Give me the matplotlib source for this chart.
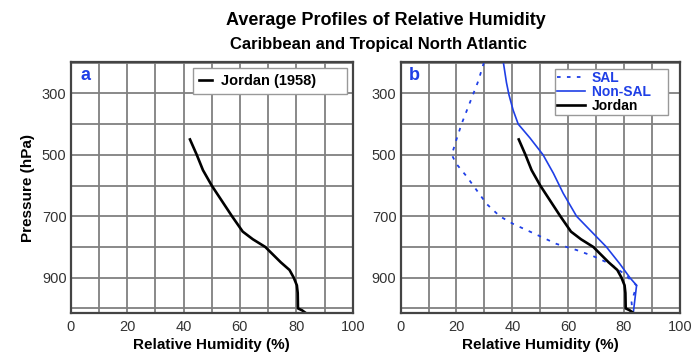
# Average RH profiles: Jordan (1958) vs SAL / Non-SAL soundings
import numpy as np
import matplotlib.pyplot as plt

plt.rcParams["font.family"] = ["Liberation Sans", "DejaVu Sans"]

# Jordan (1958) mean tropical sounding
jordan_p = [450, 500, 550, 600, 650, 700, 750, 775, 800, 850, 875, 900, 925, 950, 1000, 1006, 1016]
jordan_rh = [42.3, 44.7, 46.9, 50.0, 53.6, 57.2, 61.0, 64.6, 69.0, 74.5, 77.6, 79.1, 80.2, 80.5, 80.6, 82.0, 83.5]

# SAL composite
sal_p = [200, 260, 330, 400, 450, 500, 530, 570, 615, 660, 700, 725, 755, 790, 810, 830, 855, 885, 925, 980, 1016]
sal_rh = [29.8, 27.8, 24.8, 21.8, 20.0, 18.3, 20.0, 23.6, 27.2, 30.8, 35.5, 40.3, 47.5, 55.8, 63.0, 69.0, 75.0, 79.7, 84.5, 82.7, 83.1]

# Non-SAL composite
nonsal_p = [200, 265, 305, 355, 400, 445, 500, 560, 625, 700, 745, 800, 855, 900, 925, 1016]
nonsal_rh = [36.8, 37.9, 38.8, 40.3, 42.1, 46.3, 51.0, 54.7, 58.2, 63.0, 67.8, 73.7, 78.5, 82.1, 84.5, 83.3]

blue = "#1f3fe6"
grid_col = "#808080"

fig = plt.figure(figsize=(6.98, 3.56), dpi=100)
ax_a = fig.add_axes([0.1013, 0.1199, 0.404, 0.705])
ax_b = fig.add_axes([0.574, 0.1199, 0.400, 0.705])

for ax in (ax_a, ax_b):
    ax.set_xlim(0, 100)
    ax.set_ylim(1016, 199)
    ax.set_xticks(np.arange(0, 101, 20))
    ax.set_xticks(np.arange(0, 101, 10), minor=True)
    ax.set_yticks([300, 500, 700, 900])
    ax.set_yticks(np.arange(200, 1001, 100), minor=True)
    ax.grid(True, which="both", color=grid_col, lw=1.3)
    ax.set_axisbelow(True)
    ax.tick_params(which="both", length=0, labelsize=10.5, labelcolor="#333333")
    ax.tick_params(axis="y", pad=3)
    ax.tick_params(axis="x", pad=5)
    for s in ax.spines.values():
        s.set_color("#444444")
        s.set_linewidth(1.6)
    ax.set_xlabel("Relative Humidity (%)", fontsize=11, fontweight="bold", labelpad=3)

ax_a.set_ylabel("Pressure (hPa)", fontsize=11, fontweight="bold", labelpad=5)

# panel a
ax_a.plot(jordan_rh, jordan_p, color="black", lw=1.9, label="Jordan (1958)      ")
leg_a = ax_a.legend(loc="upper right", handlelength=0.9, handletextpad=0.6,
                    fancybox=False, framealpha=1, borderaxespad=0.4, borderpad=0.4,
                    prop={"weight": "bold", "size": 10.5})
leg_a.get_frame().set_edgecolor("#999999")
ax_a.text(0.054, 0.947, "a", transform=ax_a.transAxes, color=blue, fontsize=13,
          fontweight="bold", ha="center", va="center")

# panel b
ax_b.plot(sal_rh, sal_p, color=blue, lw=1.3, ls=(0, (2, 3.5)), label="SAL")
ax_b.plot(nonsal_rh, nonsal_p, color=blue, lw=1.2, label="Non-SAL    ")
ax_b.plot(jordan_rh, jordan_p, color="black", lw=1.9, label="Jordan")
leg_b = ax_b.legend(loc="upper right", bbox_to_anchor=(0.957, 0.975),
                    handlelength=2.0, handletextpad=0.5,
                    fancybox=False, framealpha=1, borderaxespad=0, borderpad=0.15,
                    labelspacing=0.0, prop={"weight": "bold", "size": 10})
leg_b.get_frame().set_edgecolor("#999999")
for t, c in zip(leg_b.get_texts(), [blue, blue, "black"]):
    t.set_color(c)
ax_b.text(0.049, 0.947, "b", transform=ax_b.transAxes, color=blue, fontsize=13,
          fontweight="bold", ha="center", va="center")

fig.text(0.553, 0.93, "Average Profiles of Relative Humidity", ha="center",
         va="baseline", fontsize=13, fontweight="bold")
fig.text(0.542, 0.862, "Caribbean and Tropical North Atlantic", ha="center",
         va="baseline", fontsize=12, fontweight="bold")

fig.savefig("out.png", dpi=100)
